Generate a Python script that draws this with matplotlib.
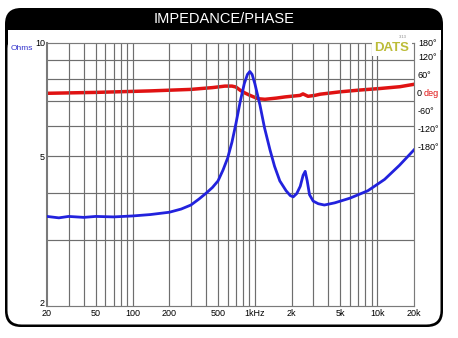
import numpy as np
import matplotlib
matplotlib.use("Agg")
import matplotlib.pyplot as plt
from matplotlib.patches import FancyBboxPatch, Rectangle
from matplotlib.transforms import IdentityTransform, ScaledTranslation

plt.rcParams['font.family'] = ['Liberation Sans', 'DejaVu Sans']

W, H = 458, 338

# impedance magnitude (Hz, ohms)
imp_freq = [20, 25, 30, 40, 50, 70, 100, 140, 200, 250, 300, 350, 400, 450, 500,
            550, 600, 650, 700, 760, 820, 870, 910, 950, 1000, 1100, 1200, 1330,
            1450, 1600, 1800, 1950, 2060, 2200, 2350, 2480, 2580, 2680, 2800, 3000,
            3300, 3700, 4500, 6000, 8400, 11500, 15200, 20000]
imp_ohms = [3.46, 3.43, 3.46, 3.44, 3.46, 3.45, 3.47, 3.50, 3.55, 3.62, 3.71, 3.85,
            3.99, 4.13, 4.30, 4.60, 4.95, 5.45, 6.10, 7.00, 7.80, 8.25, 8.40, 8.25,
            7.80, 6.85, 5.95, 5.20, 4.70, 4.30, 4.05, 3.93, 3.90, 3.98, 4.16, 4.45,
            4.56, 4.30, 3.95, 3.80, 3.74, 3.71, 3.76, 3.87, 4.05, 4.34, 4.73, 5.20]

# phase (Hz, degrees)
ph_freq = [20, 50, 140, 300, 450, 570, 650, 700, 760, 830, 914, 1060, 1210, 1500,
           1770, 2340, 2475, 2720, 3090, 3420, 5000, 7270, 10560, 15350, 20000]
ph_deg = [-1, 2, 7, 12, 18, 23, 23, 20, 9, 0, -8, -19, -21, -17, -13, -8, -3,
          -11, -8, -4, 4, 10, 15, 21, 29]

x_ticks = [20, 50, 100, 200, 500, 1000, 2000, 5000, 10000, 20000]
x_labels = ['20', '50', '100', '200', '500', '1kHz', '2k', '5k', '10k', '20k']
y_ticks = [2, 5, 10]
ph_ticks = [180, 120, 60, 0, -60, -120, -180]

fig = plt.figure(figsize=(W / 100, H / 100), dpi=100)
fig.patch.set_facecolor('white')

# frame: black rounded box, white body, black title bar
px = IdentityTransform()
fig.patches.append(FancyBboxPatch((5, H - 327), 438, 319,
                                  boxstyle="round,pad=0,rounding_size=16",
                                  transform=px, facecolor='black', edgecolor='none', zorder=-10))
fig.patches.append(FancyBboxPatch((7.5, H - 324.5), 433, 290,
                                  boxstyle="round,pad=0,rounding_size=14",
                                  transform=px, facecolor='white', edgecolor='none', zorder=-9))
fig.patches.append(Rectangle((7.5, H - 50), 433, 20, transform=px,
                             facecolor='white', edgecolor='none', zorder=-9))
fig.text(224 / W, 1 - 19 / H, 'IMPEDANCE/PHASE', color='white', fontsize=10.5,
         ha='center', va='center')

ax = fig.add_axes([47 / W, 1 - 306 / H, (414 - 47) / W, (306 - 43) / H])
ax.set_xscale('log')
ax.set_yscale('log')
ax.set_xlim(20, 20000)
ax.set_ylim(2, 10)

# grid lines at every 1-2-3...9 step
gx = [m * d for d in (10, 100, 1000, 10000) for m in range(1, 10)]
gx = [v for v in gx if 20 < v < 20000]
for v in gx:
    ax.axvline(v, color='#6e6e6e', lw=0.85, zorder=1)
for v in range(3, 10):
    ax.axhline(v, color='#6e6e6e', lw=0.85, zorder=1)
for s in ax.spines.values():
    s.set_color('#7a7a7a')
    s.set_linewidth(0.85)
ax.spines['left'].set_linewidth(1.5)

ax.set_xticks(x_ticks)
ax.set_xticklabels(x_labels)
ax.set_xticks([], minor=True)
ax.set_yticks(y_ticks)
ax.set_yticklabels([str(v) for v in y_ticks])
ax.set_yticks([], minor=True)
ax.tick_params(axis='both', length=0, labelsize=6.5, pad=1.5)
ax.tick_params(axis='x', pad=2.5)
# lift the bottom "2" a little so it sits clear of the "20"
lab2 = ax.get_yticklabels()[0]
lab2.set_transform(lab2.get_transform() + ScaledTranslation(0, 2.5 / 72, fig.dpi_scale_trans))

ax2 = ax.twinx()
# 60 degrees per 18 px, 0 deg at 93 px from top
deg_per_px = 60 / 18
ax2.set_ylim(-(306 - 93) * deg_per_px, (93 - 43) * deg_per_px)
ax2.set_yticks([])
for s in ax2.spines.values():
    s.set_visible(False)

ax2.plot(ph_freq, ph_deg, color='#e01212', lw=2.5, zorder=3)
ax.set_zorder(ax2.get_zorder() + 1)
ax.patch.set_visible(False)
ax.plot(imp_freq, imp_ohms, color='#2222dd', lw=2.0, zorder=4)

# phase scale labels
for v in ph_ticks:
    y = 93 - v / deg_per_px
    y = max(y, 44)
    if v == 0:
        fig.text(417 / W, 1 - y / H, '0', fontsize=6.5, ha='left', va='center')
        fig.text(424 / W, 1 - y / H, 'deg', fontsize=6.5, color='#e01212',
                 ha='left', va='center')
    else:
        fig.text(418 / W, 1 - y / H, f'{v}\u00b0', fontsize=6.5, ha='left', va='center')

fig.text(11 / W, 1 - 48 / H, 'Ohms', fontsize=6, color='#3333cc', ha='left', va='center')

ax.text(0.94, 0.98, 'DATS', transform=ax.transAxes, fontsize=9.5, fontweight='bold',
        color='#bcbc38', ha='center', va='center', zorder=6,
        bbox=dict(facecolor='white', edgecolor='none', pad=1.5))
ax.text(0.97, 1.023, '3.13', transform=ax.transAxes, fontsize=3, color='#888888',
        ha='center', va='center')

fig.savefig('out.png', dpi=100)
